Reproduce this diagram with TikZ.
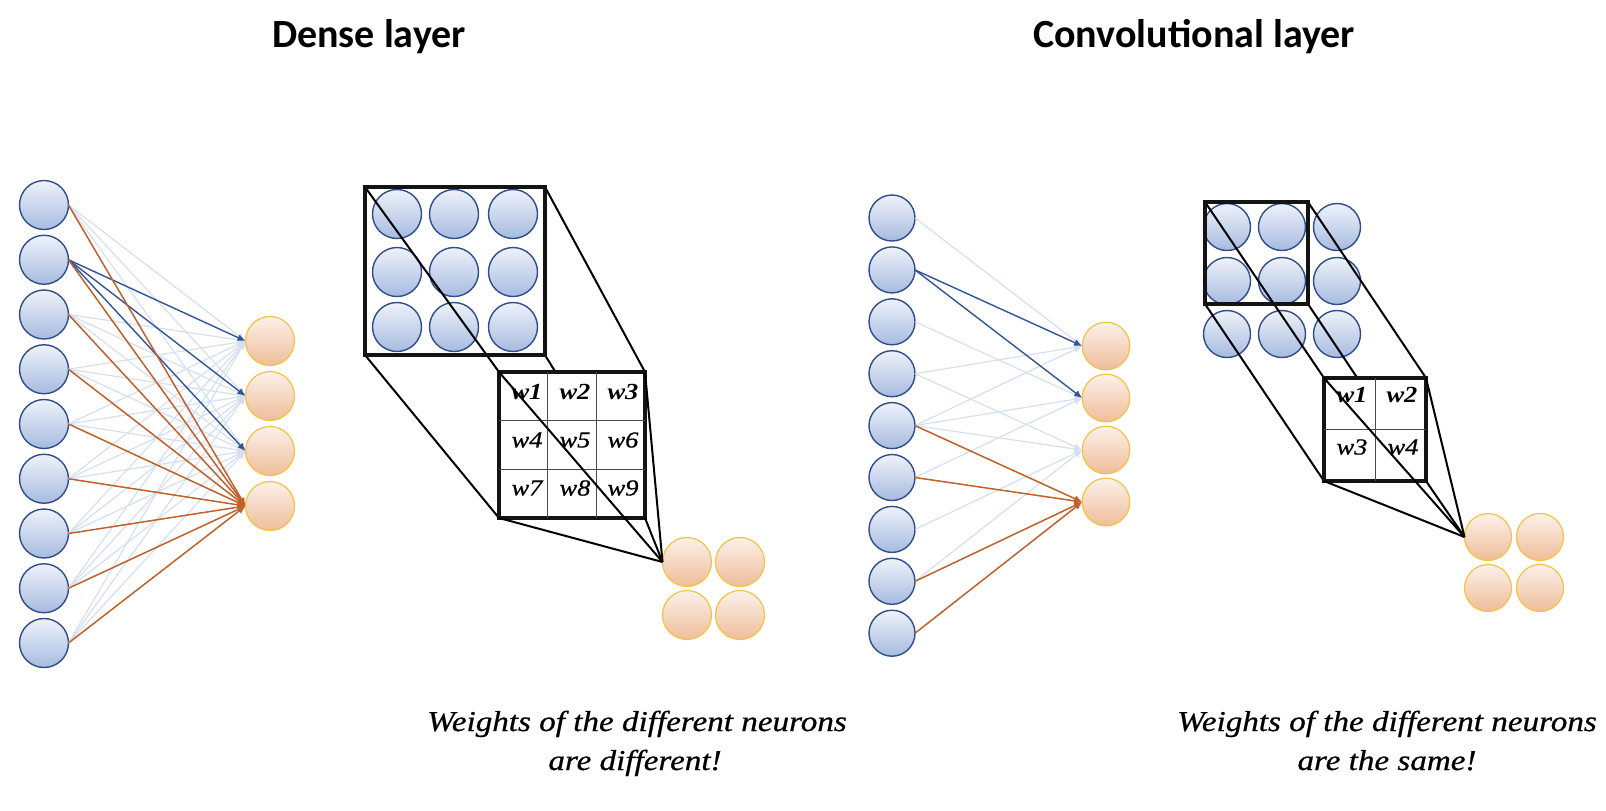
\documentclass[tikz,border=0pt]{standalone}
\usepackage{fontspec}
\setmainfont{Liberation Serif}
\newfontfamily\titlefont{Carlito}
\newfontfamily\capfont[FakeStretch=1.15]{Liberation Serif}
\newfontfamily\capfontb[FakeStretch=1.15,FakeBold=0.7]{Liberation Serif}
\usetikzlibrary{arrows.meta,calc}
\pgfdeclarelayer{back}
\pgfsetlayers{back,main}
\definecolor{nborder}{HTML}{2F4D8A}
\definecolor{ntop}{HTML}{EEF2FA}
\definecolor{nbot}{HTML}{A7BBDF}
\definecolor{oborder}{HTML}{F6C244}
\definecolor{otop}{HTML}{FCF1EA}
\definecolor{obot}{HTML}{EEBD99}
\definecolor{lightedge}{HTML}{D6DFF0}
\definecolor{blueedge}{HTML}{2F5597}
\definecolor{orangeedge}{HTML}{C0602A}
\tikzset{
  inneuron/.style={circle, draw=nborder, line width=0.7pt, top color=ntop, bottom color=nbot,
    minimum size=#1, inner sep=0pt, outer sep=0pt},
  inneuron/.default=24.5pt,
  outneuron/.style={circle, draw=oborder, line width=0.6pt, top color=otop, bottom color=obot,
    minimum size=#1, inner sep=0pt, outer sep=0pt},
  outneuron/.default=24.5pt,
  lightarrow/.style={draw=lightedge, line width=0.6pt, -{Latex[length=4pt,width=3.5pt]}},
  bluearrow/.style={draw=blueedge, line width=0.7pt, -{Latex[length=4pt,width=3.5pt]}},
  orangearrow/.style={draw=orangeedge, line width=0.75pt, -{Latex[length=4pt,width=3.5pt]}},
  thickbox/.style={draw=black!92, line width=2.2pt, inner sep=0pt, outer sep=0pt},
  conn/.style={draw=black, line width=1pt},
  gridline/.style={draw=black!70, line width=0.5pt},
  titletext/.style={font=\titlefont\bfseries\fontsize{20}{24}\selectfont, inner sep=0pt, anchor=base},
  captext/.style={font=\capfontb\itshape\fontsize{14.4}{17}\selectfont, inner sep=0pt, anchor=base},
  wlab/.style={font=\capfontb\itshape\fontsize{11.5}{13}\selectfont, inner sep=0pt},
  wlabb/.style={font=\capfont\itshape\bfseries\fontsize{11.5}{13}\selectfont, inner sep=0pt},
}
\begin{document}
\begin{tikzpicture}[x=0.5pt,y=-0.5pt]
\useasboundingbox (0,0) rectangle (1606,810);

% titles
\node[titletext] (t1) at (369,47) {Dense layer};
\node[titletext] (t2) at (1194,47) {Convolutional layer};

% ---------- dense network ----------
\foreach \i in {1,...,9} {\node[inneuron] (di\i) at (44,{205+54.75*(\i-1)}) {};}
\foreach \j in {1,...,4} {\node[outneuron] (do\j) at (270,{341+55*(\j-1)}) {};}
\foreach \i in {1,3,4,5,6,7,8,9} {
  \foreach \j in {1,2,3} {\draw[lightarrow] (di\i.east) -- (do\j.west);}
}
\foreach \j in {1,2,3} {\draw[bluearrow] (di2.east) -- (do\j.west);}
\foreach \i in {1,...,9} {\draw[orangearrow] (di\i.east) -- (do4.west);}

% ---------- dense receptive field ----------
\begin{pgfonlayer}{back}
\node[inneuron] (da1) at (397,214) {};
\node[inneuron] (da2) at (454,214) {};
\node[inneuron] (da3) at (513,214) {};
\node[inneuron] (da4) at (397,272) {};
\node[inneuron] (da5) at (454,272) {};
\node[inneuron] (da6) at (513,272) {};
\node[inneuron] (da7) at (397,327) {};
\node[inneuron] (da8) at (454,327) {};
\node[inneuron] (da9) at (513,327) {};
\end{pgfonlayer}
\node[thickbox, minimum width=90pt, minimum height=84pt] (dbox) at (455,271) {};
\node[thickbox, fill=white, minimum width=73pt, minimum height=73pt] (dgrid) at (572,445) {};
\begin{pgfonlayer}{back}
\draw[conn] (dbox.north west) -- (dgrid.north west);
\draw[conn] (dbox.north east) -- (dgrid.north east);
\draw[conn] (dbox.south west) -- (dgrid.south west);
\draw[conn] (dbox.south east) -- (dgrid.south east);
\end{pgfonlayer}
\draw[gridline] ($(dgrid.north west)!1/3!(dgrid.north east)$) -- ($(dgrid.south west)!1/3!(dgrid.south east)$);
\draw[gridline] ($(dgrid.north west)!2/3!(dgrid.north east)$) -- ($(dgrid.south west)!2/3!(dgrid.south east)$);
\draw[gridline] ($(dgrid.north west)!1/3!(dgrid.south west)$) -- ($(dgrid.north east)!1/3!(dgrid.south east)$);
\draw[gridline] ($(dgrid.north west)!2/3!(dgrid.south west)$) -- ($(dgrid.north east)!2/3!(dgrid.south east)$);
\node[wlabb] (dw1) at (527,392) {w1};
\node[wlabb] (dw2) at (575,392) {w2};
\node[wlabb] (dw3) at (623,392) {w3};
\node[wlab] (dw4) at (527,440) {w4};
\node[wlab] (dw5) at (575,440) {w5};
\node[wlab] (dw6) at (623,440) {w6};
\node[wlab] (dw7) at (527,488) {w7};
\node[wlab] (dw8) at (575,488) {w8};
\node[wlab] (dw9) at (623,488) {w9};
\node[outneuron] (dq1) at (687,562) {};
\node[outneuron] (dq2) at (740,562) {};
\node[outneuron] (dq3) at (687,615) {};
\node[outneuron] (dq4) at (740,615) {};
\draw[conn] (dgrid.north west) -- (dq1.west);
\draw[conn] (dgrid.north east) -- (dq1.west);
\draw[conn] (dgrid.south west) -- (dq1.west);
\draw[conn] (dgrid.south east) -- (dq1.west);

\node[captext] (c1a) at (637,731) {Weights of the different neurons};
\node[captext] (c1b) at (635,770) {are different!};

% ---------- convolutional network ----------
\foreach \i in {1,...,9} {\node[inneuron=23pt] (ci\i) at (892,{218+51.9*(\i-1)}) {};}
\foreach \j in {1,...,4} {\node[outneuron=23.8pt] (co\j) at (1106,{346+52*(\j-1)}) {};}
\draw[lightarrow] (ci1.east) -- (co1.west);
\draw[lightarrow] (ci3.east) -- (co2.west);
\draw[lightarrow] (ci4.east) -- (co1.west);
\draw[lightarrow] (ci4.east) -- (co3.west);
\draw[lightarrow] (ci5.east) -- (co1.west);
\draw[lightarrow] (ci5.east) -- (co2.west);
\draw[lightarrow] (ci5.east) -- (co3.west);
\draw[lightarrow] (ci6.east) -- (co2.west);
\draw[lightarrow] (ci7.east) -- (co3.west);
\draw[lightarrow] (ci8.east) -- (co3.west);
\draw[bluearrow] (ci2.east) -- (co1.west);
\draw[bluearrow] (ci2.east) -- (co2.west);
\draw[orangearrow] (ci5.east) -- (co4.west);
\draw[orangearrow] (ci6.east) -- (co4.west);
\draw[orangearrow] (ci8.east) -- (co4.west);
\draw[orangearrow] (ci9.east) -- (co4.west);

% ---------- conv receptive field ----------
\begin{pgfonlayer}{back}
\node[inneuron=23.5pt] (ca1) at (1227,227) {};
\node[inneuron=23.5pt] (ca2) at (1282,227) {};
\node[inneuron=23.5pt] (ca3) at (1337,227) {};
\node[inneuron=23.5pt] (ca4) at (1227,281) {};
\node[inneuron=23.5pt] (ca5) at (1282,281) {};
\node[inneuron=23.5pt] (ca6) at (1337,281) {};
\node[inneuron=23.5pt] (ca7) at (1227,334) {};
\node[inneuron=23.5pt] (ca8) at (1282,334) {};
\node[inneuron=23.5pt] (ca9) at (1337,334) {};
\end{pgfonlayer}
\node[thickbox, minimum width=51.5pt, minimum height=51pt] (cwin) at (1256.5,253) {};
\node[thickbox, fill=white, minimum width=51pt, minimum height=51.5pt] (cgrid) at (1375,429.5) {};
\begin{pgfonlayer}{back}
\draw[conn] (cwin.north west) -- (cgrid.north west);
\draw[conn] (cwin.north east) -- (cgrid.north east);
\draw[conn] (cwin.south west) -- (cgrid.south west);
\draw[conn] (cwin.south east) -- (cgrid.south east);
\end{pgfonlayer}
\draw[gridline] (cgrid.north) -- (cgrid.south);
\draw[gridline] (cgrid.west) -- (cgrid.east);
\node[wlabb] (cw1) at (1352,395) {w1};
\node[wlabb] (cw2) at (1402,395) {w2};
\node[wlab] (cw3) at (1352,447) {w3};
\node[wlab] (cw4) at (1403,447) {w4};
\node[outneuron=23.5pt] (cq1) at (1488,537) {};
\node[outneuron=23.5pt] (cq2) at (1540,537) {};
\node[outneuron=23.5pt] (cq3) at (1488,588) {};
\node[outneuron=23.5pt] (cq4) at (1540,588) {};
\draw[conn] (cgrid.north west) -- (cq1.west);
\draw[conn] (cgrid.north east) -- (cq1.west);
\draw[conn] (cgrid.south west) -- (cq1.west);
\draw[conn] (cgrid.south east) -- (cq1.west);

\node[captext] (c2a) at (1387,731) {Weights of the different neurons};
\node[captext] (c2b) at (1387,770) {are the same!};
\end{tikzpicture}
\end{document}
